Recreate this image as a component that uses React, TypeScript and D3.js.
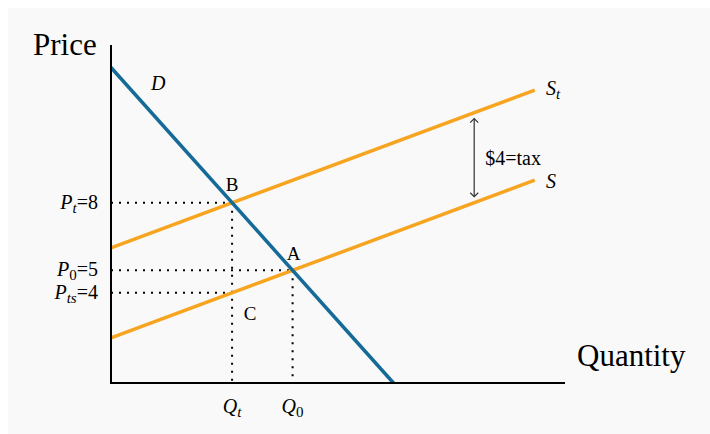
import React, { useEffect } from "react";
import * as d3 from "d3";

// Curves (Quantity, Price)
const demandQ = [0, 14];
const demandP = [14, 0];
const supplyQ = [0, 21];
const supplyP = [2, 9];
const taxSupplyQ = [0, 21];
const taxSupplyP = [6, 13];

// Reference levels
const priceLevels = [
  { main: "P", sub: "t", val: "=8", p: 8, qEnd: 6 },
  { main: "P", sub: "0", val: "=5", p: 5, qEnd: 9 },
  { main: "P", sub: "ts", val: "=4", p: 4, qEnd: 6 },
];
const qtyLevels = [
  { main: "Q", sub: "t", q: 6, pEnd: 8 },
  { main: "Q", sub: "0", q: 9, pEnd: 5 },
];
const points = [
  { name: "B", q: 6, p: 8 },
  { name: "A", q: 9, p: 5 },
  { name: "C", q: 6, p: 4 },
];
const taxQ = 18;
const taxLabel = "$4=tax";

const W = 710;
const H = 434;
const FONT = "'Liberation Serif', 'Times New Roman', serif";
const BLUE = "#156a97";
const ORANGE = "#f7a520";

export default function App() {
  useEffect(() => {
    document.body.style.overflow = "hidden";
  }, []);

  const x = d3.scaleLinear().domain([0, 22.5]).range([111, 565]);
  const y = d3.scaleLinear().domain([0, 15]).range([383, 45]);
  const line = d3
    .line<[number, number]>()
    .x((d) => x(d[0]))
    .y((d) => y(d[1]));

  const zip = (a: number[], b: number[]) =>
    a.map((v, i) => [v, b[i]] as [number, number]);

  const sAt = (q: number) => supplyP[0] + ((supplyP[1] - supplyP[0]) / (supplyQ[1] - supplyQ[0])) * q;
  const stAt = (q: number) => taxSupplyP[0] + ((taxSupplyP[1] - taxSupplyP[0]) / (taxSupplyQ[1] - taxSupplyQ[0])) * q;

  const ax = x(taxQ);
  const ay1 = y(stAt(taxQ)) + 6;
  const ay2 = y(sAt(taxQ)) - 6;

  return (
    <svg
      width={W}
      height={H}
      style={{ position: "absolute", left: 0, top: 0, display: "block" }}
      fontFamily={FONT}
    >
      <rect x={8} y={8} width={W - 8} height={H - 8} fill="#f9f9f9" />

      {/* dotted guides */}
      {priceLevels.map((d, i) => (
        <line
          key={"ph" + i}
          x1={x(0)}
          x2={x(d.qEnd)}
          y1={y(d.p)}
          y2={y(d.p)}
          stroke="#000"
          strokeWidth={2}
          strokeDasharray="2,6"
        />
      ))}
      {qtyLevels.map((d, i) => (
        <line
          key={"qv" + i}
          x1={x(d.q)}
          x2={x(d.q)}
          y1={y(d.pEnd)}
          y2={y(0)}
          stroke="#000"
          strokeWidth={2}
          strokeDasharray="2,6"
        />
      ))}

      {/* curves */}
      <path d={line(zip(taxSupplyQ, taxSupplyP)) || ""} stroke={ORANGE} strokeWidth={3.5} fill="none" />
      <path d={line(zip(supplyQ, supplyP)) || ""} stroke={ORANGE} strokeWidth={3.5} fill="none" />
      <path d={line(zip(demandQ, demandP)) || ""} stroke={BLUE} strokeWidth={3.5} fill="none" />

      {/* axes */}
      <line x1={x(0)} x2={x(0)} y1={y(15)} y2={y(0) + 1} stroke="#000" strokeWidth={2} />
      <line x1={x(0) - 1} x2={x(22.5)} y1={y(0)} y2={y(0)} stroke="#000" strokeWidth={2} />

      <text x={33} y={55} fontSize={31}>Price</text>
      <text x={577} y={366} fontSize={31}>Quantity</text>

      {/* curve labels */}
      <text x={151} y={90} fontSize={20} fontStyle="italic">D</text>
      <text x={546} y={95} fontSize={20} fontStyle="italic">
        S<tspan fontSize={15} dy={4}>t</tspan>
      </text>
      <text x={546} y={188} fontSize={20} fontStyle="italic">S</text>

      {/* tax arrow */}
      <line x1={ax} x2={ax} y1={ay1} y2={ay2} stroke="#333" strokeWidth={1.2} />
      <path d={`M${ax - 4},${ay1 + 4} L${ax},${ay1} L${ax + 4},${ay1 + 4}`} stroke="#333" strokeWidth={1.2} fill="none" />
      <path d={`M${ax - 4},${ay2 - 4} L${ax},${ay2} L${ax + 4},${ay2 - 4}`} stroke="#333" strokeWidth={1.2} fill="none" />
      <text x={ax + 11} y={165} fontSize={20}>{taxLabel}</text>

      {/* point labels */}
      {points.map((d) => {
        const off: Record<string, [number, number]> = {
          B: [0, -12],
          A: [1, -10],
          C: [18, 27],
        };
        const o = off[d.name];
        return (
          <text
            key={d.name}
            x={x(d.q) + o[0]}
            y={y(d.p) + o[1]}
            fontSize={19}
            textAnchor="middle"
          >
            {d.name}
          </text>
        );
      })}

      {/* price level labels */}
      {priceLevels.map((d, i) => (
        <text key={"pl" + i} x={98} y={y(d.p) + 6} fontSize={20} textAnchor="end">
          <tspan fontStyle="italic">{d.main}</tspan>
          <tspan fontStyle={d.sub === "0" ? "normal" : "italic"} fontSize={15} dy={4}>
            {d.sub}
          </tspan>
          <tspan dy={-4}>{d.val}</tspan>
        </text>
      ))}

      {/* quantity level labels */}
      {qtyLevels.map((d, i) => (
        <text key={"ql" + i} x={x(d.q)} y={413} fontSize={20} textAnchor="middle">
          <tspan fontStyle="italic">{d.main}</tspan>
          <tspan fontStyle={d.sub === "0" ? "normal" : "italic"} fontSize={15} dy={4}>
            {d.sub}
          </tspan>
        </text>
      ))}
    </svg>
  );
}
